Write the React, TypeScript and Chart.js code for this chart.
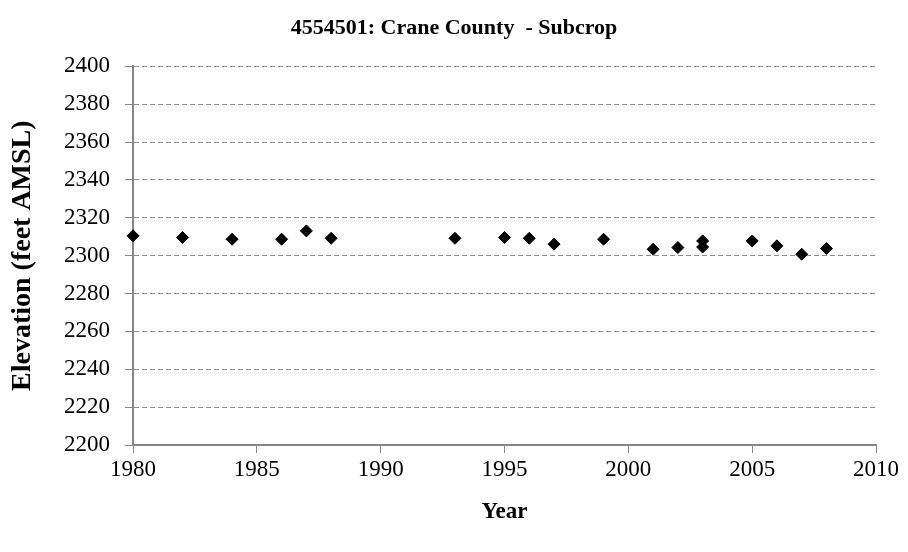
import React, { useEffect, useRef } from "react";
import { Chart, registerables } from "chart.js";

Chart.register(...registerables);

const chartTitle = "4554501: Crane County  - Subcrop";
const xAxisTitle = "Year";
const yAxisTitle = "Elevation (feet AMSL)";

const years = [1980, 1982, 1984, 1986, 1987, 1988, 1993, 1995, 1996, 1997, 1999, 2001, 2002, 2003, 2003, 2005, 2006, 2007, 2008];
const elevations = [2310.5, 2309.6, 2308.7, 2308.7, 2313.1, 2309.2, 2309.2, 2309.6, 2309.2, 2306.1, 2308.7, 2303.4, 2304.3, 2307.8, 2304.6, 2307.8, 2305.2, 2300.8, 2303.8];

const xMin = 1980;
const xMax = 2010;
const xStep = 5;
const yMin = 2200;
const yMax = 2400;
const yStep = 20;

const FONT = "'Liberation Serif', 'Times New Roman', serif";

export default function App() {
  const canvasRef = useRef<HTMLCanvasElement | null>(null);

  useEffect(() => {
    document.body.style.margin = "0";
    const canvas = canvasRef.current;
    if (!canvas) return;
    const points = years.map((x, i) => ({ x, y: elevations[i] }));
    const chart = new Chart(canvas, {
      type: "scatter",
      data: {
        datasets: [
          {
            label: "Elevation",
            data: points,
            pointStyle: "rectRot",
            pointRadius: 6,
            pointHoverRadius: 6,
            backgroundColor: "#000000",
            borderColor: "#000000",
            borderWidth: 1,
            clip: false,
            xAxisID: "x",
            yAxisID: "y",
          },
        ],
      },
      options: {
        animation: false,
        responsive: false,
        maintainAspectRatio: false,
        events: [],
        layout: { padding: { left: 0, right: 0, top: 0, bottom: 0 } },
        plugins: {
          legend: { display: false },
          tooltip: { enabled: false },
          title: {
            display: true,
            text: chartTitle,
            color: "#000000",
            font: { family: FONT, size: 22, weight: "bold" },
            padding: { top: 15, bottom: 25 },
          },
        },
        scales: {
          x: {
            type: "linear",
            position: "bottom",
            min: xMin,
            max: xMax,
            afterFit: (scale: any) => {
              scale.height = 107;
            },
            ticks: {
              stepSize: xStep,
              color: "#000000",
              font: { family: FONT, size: 23 },
              padding: 3,
              maxRotation: 0,
              callback: (v: any) => String(v),
            },
            grid: {
              drawOnChartArea: false,
              drawTicks: true,
              tickLength: 8,
              tickColor: "#868686",
              tickWidth: 1,
              color: "#868686",
            },
            border: { display: true, color: "#868686", width: 2 },
            title: {
              display: true,
              text: xAxisTitle,
              color: "#000000",
              font: { family: FONT, size: 23, weight: "bold" },
              padding: { top: 0, bottom: 26 },
            },
          },
          y: {
            type: "linear",
            position: "left",
            min: yMin,
            max: yMax,
            afterFit: (scale: any) => {
              scale.width = 133;
            },
            ticks: {
              stepSize: yStep,
              color: "#000000",
              font: { family: FONT, size: 23 },
              padding: 15,
              callback: (v: any) => String(v),
            },
            grid: {
              drawOnChartArea: true,
              drawTicks: true,
              tickLength: 8,
              tickColor: "#868686",
              tickWidth: 1,
              tickBorderDash: [],
              color: "#8c8c8c",
              lineWidth: 1,
            },
            border: { display: true, color: "#868686", width: 2, dash: [5, 3] },
            title: {
              display: true,
              text: yAxisTitle,
              color: "#000000",
              font: { family: FONT, size: 28, weight: "bold" },
              padding: { top: 6, bottom: 0 },
            },
          },
          yRightSpace: {
            type: "linear",
            position: "right",
            display: true,
            afterFit: (scale: any) => {
              scale.width = 32;
            },
            ticks: { display: false },
            grid: { display: false, drawOnChartArea: false, drawTicks: false },
            border: { display: false },
            title: { display: false },
          },
        },
      },
    });
    return () => chart.destroy();
  }, []);

  return (
    <div style={{ width: 908, height: 552 }}>
      <canvas ref={canvasRef} width={908} height={552} style={{ width: 908, height: 552, display: "block" }} />
    </div>
  );
}
